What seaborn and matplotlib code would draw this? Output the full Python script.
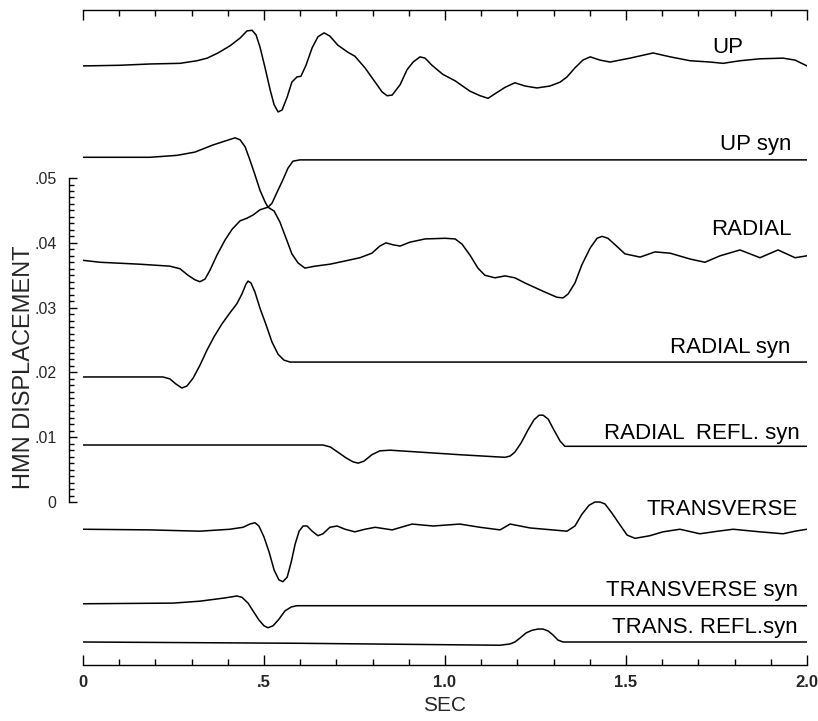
import matplotlib
matplotlib.use("Agg")
import matplotlib.pyplot as plt
import numpy as np
import pandas as pd
import seaborn as sns
from matplotlib.ticker import FixedLocator, MultipleLocator

# ---- seismogram traces: time (s) and plotted displacement ----
up_t = [0.000, 0.102, 0.185, 0.268, 0.315, 0.343, 0.373, 0.406, 0.434, 0.453, 0.467, 0.478,
        0.489, 0.503, 0.517, 0.528, 0.539, 0.550, 0.564, 0.577, 0.591, 0.602, 0.616, 0.633,
        0.649, 0.666, 0.682, 0.704, 0.732, 0.751, 0.779, 0.807, 0.826, 0.840, 0.854, 0.876,
        0.895, 0.912, 0.931, 0.945, 0.964, 0.994, 1.028, 1.069, 1.097, 1.119, 1.138, 1.166,
        1.193, 1.221, 1.254, 1.290, 1.318, 1.337, 1.359, 1.381, 1.401, 1.428, 1.456, 1.511,
        1.575, 1.622, 1.677, 1.732, 1.768, 1.815, 1.870, 1.934, 1.967, 2.000]
up_d = [0.0673, 0.0674, 0.0676, 0.0677, 0.0681, 0.0685, 0.0693, 0.0704, 0.0716, 0.0727,
        0.0728, 0.0721, 0.0702, 0.0670, 0.0636, 0.0613, 0.0602, 0.0605, 0.0625, 0.0648,
        0.0656, 0.0657, 0.0674, 0.0701, 0.0718, 0.0724, 0.0719, 0.0705, 0.0694, 0.0688,
        0.0670, 0.0648, 0.0633, 0.0627, 0.0628, 0.0644, 0.0667, 0.0679, 0.0687, 0.0685,
        0.0674, 0.0660, 0.0650, 0.0634, 0.0627, 0.0623, 0.0630, 0.0640, 0.0647, 0.0642,
        0.0639, 0.0642, 0.0648, 0.0656, 0.0670, 0.0682, 0.0687, 0.0682, 0.0679, 0.0685,
        0.0693, 0.0687, 0.0681, 0.0679, 0.0677, 0.0681, 0.0684, 0.0685, 0.0682, 0.0673]

up_syn_t = [0.000, 0.185, 0.260, 0.309, 0.359, 0.392, 0.420, 0.434, 0.448, 0.461, 0.475,
            0.489, 0.503, 0.511, 0.522, 0.536, 0.552, 0.566, 0.580, 0.599, 2.000]
up_syn_d = [0.0532, 0.0532, 0.0535, 0.0540, 0.0551, 0.0557, 0.0562, 0.0559, 0.0548, 0.0528,
            0.0505, 0.0481, 0.0463, 0.0455, 0.0461, 0.0478, 0.0497, 0.0515, 0.0526, 0.0528,
            0.0528]

radial_t = [0.000, 0.047, 0.157, 0.240, 0.268, 0.290, 0.309, 0.323, 0.337, 0.351, 0.370,
            0.392, 0.412, 0.434, 0.453, 0.470, 0.489, 0.511, 0.528, 0.544, 0.561, 0.577,
            0.594, 0.613, 0.641, 0.682, 0.724, 0.765, 0.798, 0.820, 0.837, 0.856, 0.876,
            0.903, 0.945, 1.000, 1.028, 1.047, 1.069, 1.091, 1.110, 1.138, 1.166, 1.193,
            1.221, 1.276, 1.309, 1.326, 1.340, 1.359, 1.378, 1.401, 1.420, 1.434, 1.450,
            1.470, 1.497, 1.539, 1.580, 1.622, 1.677, 1.718, 1.760, 1.815, 1.870, 1.920,
            1.967, 2.000]
radial_d = [0.0373, 0.0370, 0.0367, 0.0364, 0.0360, 0.0350, 0.0343, 0.0340, 0.0344, 0.0358,
            0.0381, 0.0404, 0.0421, 0.0434, 0.0438, 0.0443, 0.0451, 0.0455, 0.0449, 0.0432,
            0.0407, 0.0383, 0.0369, 0.0361, 0.0364, 0.0367, 0.0372, 0.0377, 0.0384, 0.0395,
            0.0400, 0.0397, 0.0395, 0.0401, 0.0406, 0.0407, 0.0406, 0.0398, 0.0381, 0.0361,
            0.0350, 0.0346, 0.0349, 0.0346, 0.0338, 0.0324, 0.0316, 0.0315, 0.0321, 0.0338,
            0.0366, 0.0392, 0.0407, 0.0410, 0.0407, 0.0397, 0.0383, 0.0378, 0.0386, 0.0384,
            0.0375, 0.0370, 0.0380, 0.0389, 0.0377, 0.0389, 0.0377, 0.0380]

radial_syn_t = [0.000, 0.221, 0.240, 0.257, 0.273, 0.287, 0.304, 0.323, 0.343, 0.362,
                0.384, 0.406, 0.425, 0.439, 0.450, 0.456, 0.464, 0.475, 0.489, 0.506,
                0.522, 0.539, 0.555, 0.572, 2.000]
radial_syn_d = [0.0193, 0.0193, 0.0190, 0.0182, 0.0176, 0.0179, 0.0191, 0.0211, 0.0235,
                0.0255, 0.0275, 0.0292, 0.0306, 0.0321, 0.0336, 0.0341, 0.0338, 0.0324,
                0.0299, 0.0273, 0.0247, 0.0228, 0.0219, 0.0216, 0.0216]

radial_refl_t = [0.000, 0.663, 0.683, 0.704, 0.727, 0.746, 0.760, 0.776, 0.798, 0.820,
                 0.848, 0.931, 1.041, 1.166, 1.180, 1.193, 1.210, 1.229, 1.246, 1.260,
                 1.271, 1.285, 1.301, 1.318, 1.331, 2.000]
radial_refl_d = [0.0088, 0.0088, 0.0085, 0.0077, 0.0068, 0.0062, 0.0060, 0.0063, 0.0073,
                 0.0079, 0.0080, 0.0077, 0.0073, 0.0069, 0.0071, 0.0077, 0.0091, 0.0111,
                 0.0127, 0.0134, 0.0134, 0.0128, 0.0111, 0.0094, 0.0086, 0.0086]

trans_t = [0.000, 0.185, 0.323, 0.406, 0.442, 0.461, 0.475, 0.486, 0.500, 0.514, 0.528,
           0.541, 0.552, 0.564, 0.575, 0.586, 0.597, 0.608, 0.619, 0.633, 0.649, 0.663,
           0.682, 0.702, 0.724, 0.751, 0.779, 0.807, 0.854, 0.909, 0.967, 1.041, 1.097,
           1.152, 1.180, 1.235, 1.337, 1.359, 1.378, 1.398, 1.414, 1.428, 1.442, 1.461,
           1.483, 1.503, 1.525, 1.566, 1.602, 1.649, 1.704, 1.754, 1.796, 1.870, 1.934,
           1.967, 2.000]
trans_d = [-0.0042, -0.0043, -0.0045, -0.0042, -0.0039, -0.0034, -0.0032, -0.0037, -0.0054,
           -0.0077, -0.0105, -0.0120, -0.0123, -0.0116, -0.0093, -0.0065, -0.0045, -0.0037,
           -0.0037, -0.0045, -0.0052, -0.0049, -0.0039, -0.0037, -0.0042, -0.0046, -0.0042,
           -0.0039, -0.0043, -0.0034, -0.0037, -0.0034, -0.0039, -0.0043, -0.0034, -0.0040,
           -0.0045, -0.0037, -0.0019, -0.0005, 0.0000, 0.0000, -0.0003, -0.0017, -0.0035,
           -0.0051, -0.0056, -0.0052, -0.0046, -0.0042, -0.0049, -0.0045, -0.0042, -0.0046,
           -0.0049, -0.0045, -0.0042]

trans_syn_t = [0.000, 0.249, 0.323, 0.392, 0.425, 0.439, 0.456, 0.472, 0.486, 0.500, 0.511,
               0.525, 0.541, 0.558, 0.575, 0.591, 2.000]
trans_syn_d = [-0.0157, -0.0156, -0.0153, -0.0148, -0.0145, -0.0147, -0.0156, -0.0170,
               -0.0182, -0.0191, -0.0194, -0.0191, -0.0181, -0.0168, -0.0162, -0.0160,
               -0.0160]

trans_refl_t = [0.000, 0.599, 1.152, 1.180, 1.193, 1.207, 1.224, 1.240, 1.257, 1.271, 1.285,
                1.298, 1.312, 1.326, 2.000]
trans_refl_d = [-0.0216, -0.0218, -0.0221, -0.0219, -0.0216, -0.0210, -0.0202, -0.0198,
                -0.0196, -0.0196, -0.0199, -0.0205, -0.0213, -0.0216, -0.0216]

trace_names = ["UP", "UP syn", "RADIAL", "RADIAL syn", "RADIAL  REFL. syn",
               "TRANSVERSE", "TRANSVERSE syn", "TRANS. REFL.syn"]

x_tick_values = [0, 0.5, 1.0, 1.5, 2.0]
x_tick_labels = ["0", ".5", "1.0", "1.5", "2.0"]
y_tick_values = [0, 0.01, 0.02, 0.03, 0.04, 0.05]
y_tick_labels = ["0", ".01", ".02", ".03", ".04", ".05"]

# ---- assemble long-form table ----
series = [(up_t, up_d), (up_syn_t, up_syn_d), (radial_t, radial_d),
          (radial_syn_t, radial_syn_d), (radial_refl_t, radial_refl_d),
          (trans_t, trans_d), (trans_syn_t, trans_syn_d), (trans_refl_t, trans_refl_d)]
frames = [pd.DataFrame({"sec": t, "disp": d, "trace": name})
          for name, (t, d) in zip(trace_names, series)]
df = pd.concat(frames, ignore_index=True)

# ---- figure ----
sns.set_style("ticks")
plt.rcParams["font.family"] = ["Liberation Sans", "DejaVu Sans"]

W, H = 818, 721
fig = plt.figure(figsize=(W / 100, H / 100), dpi=100)
ax = fig.add_axes([83 / W, 56 / H, 724 / W, 655 / H])

sns.lineplot(data=df, x="sec", y="disp", units="trace", estimator=None, sort=False,
             color="black", linewidth=1.1, solid_joinstyle="round",
             solid_capstyle="round", ax=ax)

ax.set_xlim(0, 2.0)
ax.set_ylim(-0.02515, 0.07593)

# label placement (right edge x, centre y) for each trace name
label_pos = {
    "UP": (1.823, 0.0702),
    "UP syn": (1.958, 0.0551),
    "RADIAL": (1.958, 0.0420),
    "RADIAL syn": (1.953, 0.0239),
    "RADIAL  REFL. syn": (1.981, 0.0106),
    "TRANSVERSE": (1.975, -0.0012),
    "TRANSVERSE syn": (1.975, -0.0136),
    "TRANS. REFL.syn": (1.975, -0.0193),
}
for name in trace_names:
    x, y = label_pos[name]
    ax.text(x, y, name, ha="right", va="center", fontsize=16, color="black")

# spines
for s in ["top", "bottom", "left"]:
    ax.spines[s].set_linewidth(1.0)
    ax.spines[s].set_color("black")
ax.spines["right"].set_visible(False)
ax.spines["left"].set_position(("outward", 10))
ax.spines["left"].set_bounds(0, 0.05)

# ticks
ax.xaxis.set_major_locator(FixedLocator(x_tick_values))
ax.xaxis.set_minor_locator(MultipleLocator(0.1))
ax.set_xticklabels(x_tick_labels)
ax.yaxis.set_major_locator(FixedLocator(y_tick_values))
ax.yaxis.set_minor_locator(FixedLocator(np.round(np.arange(0, 0.0501, 0.001), 4)))
ax.set_yticklabels(y_tick_labels)

ax.tick_params(axis="x", which="both", direction="in", top=True, bottom=True,
               width=1.0, color="black")
ax.tick_params(axis="x", which="major", length=7, pad=7, labelsize=12)
ax.tick_params(axis="x", which="minor", length=4)
ax.tick_params(axis="y", which="both", direction="in", left=True, right=False,
               width=1.0, color="black")
ax.tick_params(axis="y", which="major", length=6, pad=9, labelsize=11.5)
ax.tick_params(axis="y", which="minor", length=3.5)
for lab in ax.get_xticklabels():
    lab.set_fontweight("bold")

ax.set_xlabel("SEC", fontsize=15)
ax.xaxis.set_label_coords(0.5, -0.048)
ax.set_ylabel("HMN DISPLACEMENT", fontsize=17)
ax.yaxis.set_label_coords(-0.066, 0.455)

ax.grid(False)
fig.savefig("out.png", dpi=100, facecolor="white")
